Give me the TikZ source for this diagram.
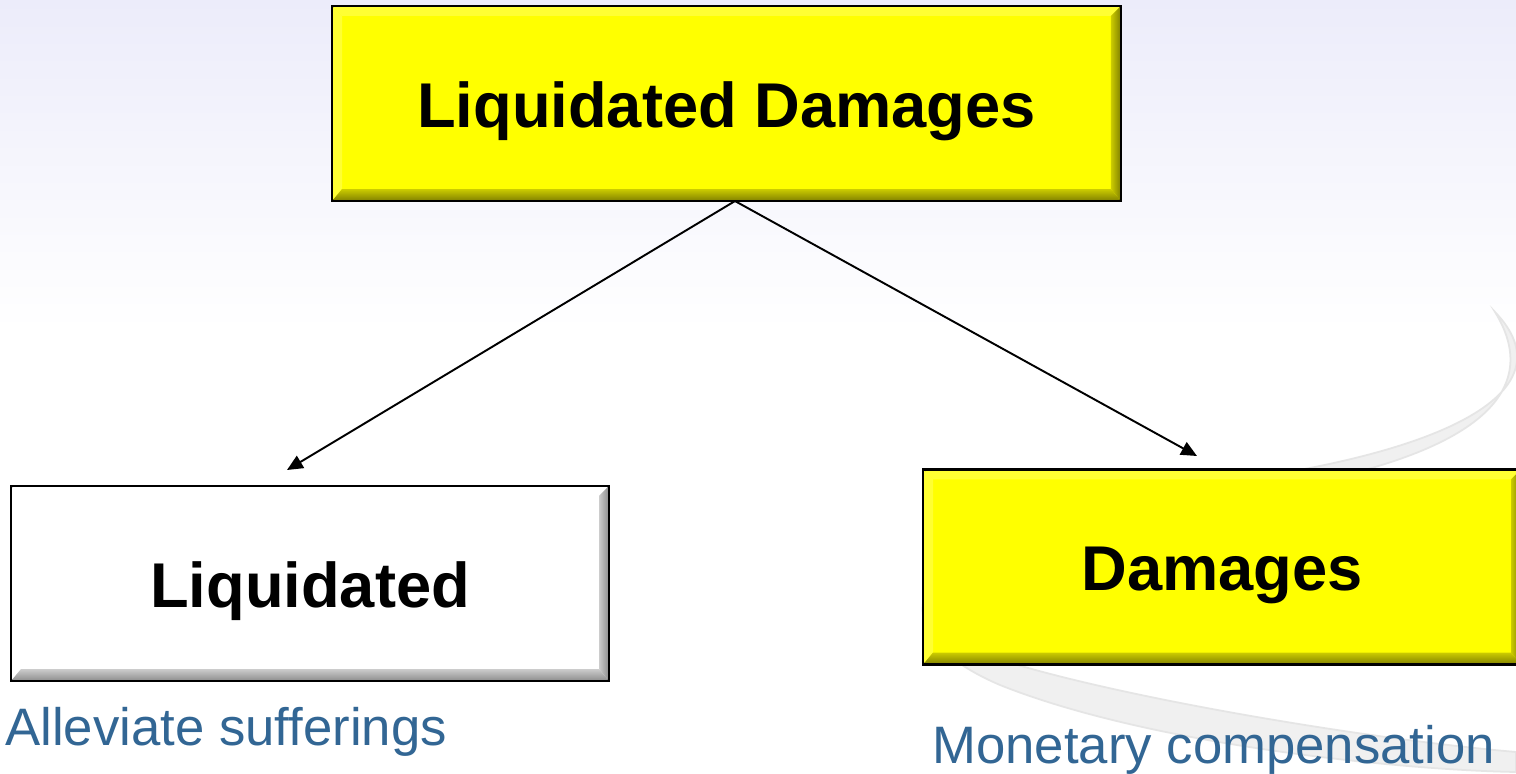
\documentclass[tikz,border=0pt]{standalone}
\usepackage{fontspec}
\setmainfont{Liberation Sans}
\usetikzlibrary{arrows.meta, positioning}
\definecolor{labelblue}{RGB}{50,102,148}
\definecolor{bglilac}{RGB}{236,236,250}
\definecolor{boxyellow}{RGB}{255,255,0}
\tikzset{
    mainbox/.style={
        rectangle,
        minimum width=15.74cm,
        minimum height=3.86cm,
        inner sep=0pt,
        text height=34pt,
        text depth=7pt,
        font=\fontsize{36}{40}\selectfont\bfseries,
        draw=black,
        line width=1.2pt,
        fill=boxyellow
    },
    subbox/.style={
        mainbox,
        minimum width=11.92cm
    },
    note/.style={
        inner sep=0pt,
        text=labelblue,
        font=\fontsize{30}{34}\selectfont
    },
    arrow/.style={
        line width=1.1pt,
        -{Triangle[length=9pt,width=8pt]}
    },
    swoosh/.style={
        fill=black!6,
        draw=black!10,
        line width=1pt
    }
}
% bevelled edges of a box: node, bottom/right shading, top/left colour
\newcommand{\boxbevel}[3]{%
    \fill[#3] (#1.north west) -- (#1.north east) -- ([shift={(-0.2cm,-0.2cm)}]#1.north east) -- ([shift={(0.2cm,-0.2cm)}]#1.north west) -- cycle;
    \fill[#3] (#1.north west) -- ([shift={(0.2cm,-0.2cm)}]#1.north west) -- ([shift={(0.2cm,0.24cm)}]#1.south west) -- (#1.south west) -- cycle;
    \shade[#2] (#1.south west) -- ([shift={(0.2cm,0.24cm)}]#1.south west) -- ([shift={(-0.2cm,0.24cm)}]#1.south east) -- (#1.south east) -- cycle;
    \shade[#2, shading angle=90] (#1.south east) -- ([shift={(-0.2cm,0.24cm)}]#1.south east) -- ([shift={(-0.2cm,-0.2cm)}]#1.north east) -- (#1.north east) -- cycle;
    \draw[line width=1.2pt] (#1.south west) rectangle (#1.north east);
}

\begin{document}
\begin{tikzpicture}[x=0.02cm, y=-0.02cm]

\useasboundingbox (0,0) rectangle (1516,774);

% Background
\shade[top color=bglilac, bottom color=white] (0,0) rectangle (1516,330);
\fill[white] (0,330) rectangle (1516,774);
\path[swoosh] (1495,312) .. controls (1570,390) and (1450,455) .. (1200,485)
    .. controls (900,525) and (860,625) .. (1000,685)
    .. controls (1150,745) and (1400,770) .. (1516,772)
    -- (1516,752) .. controls (1320,735) and (960,670) .. (928,625)
    .. controls (900,570) and (1100,520) .. (1300,485)
    .. controls (1490,448) and (1540,385) .. (1495,312) -- cycle;

% Nodes
\node (top) [mainbox] at (726.5,103.5) {Liquidated Damages};
\node (liquidated) [subbox, fill=white] at (310,583.5) {Liquidated};
\node (damages) [subbox] at (1222,567) {Damages};

\boxbevel{top}{top color=boxyellow!80!black, bottom color=boxyellow!50!black}{boxyellow!80!white}
\boxbevel{liquidated}{top color=black!20, bottom color=black!45}{white}
\boxbevel{damages}{top color=boxyellow!80!black, bottom color=boxyellow!50!black}{boxyellow!80!white}

\node (alleviate) [note, anchor=base west] at (5,745) {Alleviate sufferings};
\node (monetary) [note, anchor=base west] at (932,763) {Monetary compensation};

% Arrows
\coordinate (lefttip) at (287,470);
\coordinate (righttip) at (1197,456);
\draw[arrow] ([xshift=0.17cm]top.south) -- (lefttip);
\draw[arrow] ([xshift=0.17cm]top.south) -- (righttip);

\end{tikzpicture}
\end{document}
